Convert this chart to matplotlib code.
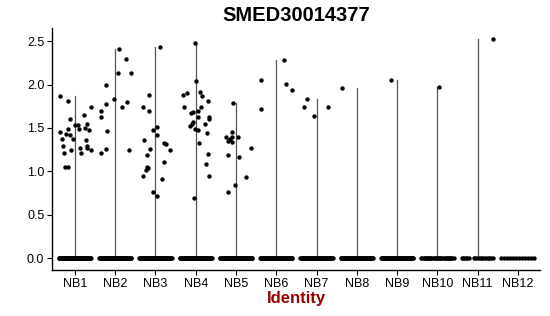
import numpy as np
import matplotlib
matplotlib.use("Agg")
import matplotlib.pyplot as plt

plt.rcParams["font.family"] = ["Liberation Sans", "DejaVu Sans"]

# cluster labels and the expression values (non-zero cells),
# with the horizontal jitter offset each point shows
groups = ["NB1", "NB2", "NB3", "NB4", "NB5", "NB6",
          "NB7", "NB8", "NB9", "NB10", "NB11", "NB12"]

nz_values = [
    [1.87, 1.81, 1.60, 1.45, 1.37, 1.49, 1.43, 1.42, 1.37, 1.29, 1.25, 1.21, 1.53,
     1.53, 1.49, 1.65, 1.55, 1.50, 1.48, 1.74, 1.36, 1.29, 1.27, 1.27, 1.21, 1.24,
     1.05, 1.05],
    [1.62, 1.70, 2.00, 1.77, 1.46, 1.21, 1.26, 1.83, 2.41, 2.13, 2.29, 2.13, 1.74,
     1.80, 1.25],
    [2.43, 1.88, 1.74, 1.69, 1.48, 1.51, 1.42, 1.36, 1.26, 1.19, 1.33, 1.31, 1.24,
     1.11, 1.05, 1.04, 1.02, 0.95, 0.91, 0.76, 0.71],
    [2.48, 2.04, 1.88, 1.90, 1.91, 1.87, 1.81, 1.74, 1.67, 1.68, 1.70, 1.74, 1.63,
     1.62, 1.60, 1.55, 1.57, 1.54, 1.52, 1.49, 1.47, 1.44, 1.33, 1.20, 1.08, 0.94,
     0.69],
    [1.79, 1.45, 1.39, 1.35, 1.37, 1.34, 1.39, 1.39, 1.19, 1.16, 1.27, 0.93, 0.76,
     0.84],
    [2.05, 1.72, 2.28, 2.01, 1.94],
    [1.83, 1.74, 1.64, 1.74],
    [1.96],
    [2.05],
    [1.97],
    [2.52],
    [],
]

nz_offsets = [
    [-0.37, -0.18, -0.12, -0.37, -0.32, -0.18, -0.23, -0.12, -0.04, -0.29, -0.10,
     -0.27, 0.00, 0.07, 0.11, 0.22, 0.29, 0.25, 0.36, 0.39, 0.27, 0.31, 0.31, 0.12,
     0.15, 0.40, -0.25, -0.18],
    [-0.36, -0.36, -0.23, -0.23, -0.20, -0.36, -0.23, -0.02, 0.09, 0.06, 0.28, 0.38,
     0.16, 0.29, 0.35],
    [0.11, -0.15, -0.30, -0.17, -0.05, 0.04, 0.05, -0.29, -0.14, -0.21, 0.22, 0.25,
     0.35, 0.21, -0.22, -0.18, -0.24, -0.30, 0.17, -0.07, 0.03],
    [-0.03, 0.01, -0.31, -0.22, 0.10, 0.16, 0.30, -0.28, -0.12, -0.07, 0.06, 0.13,
     0.05, 0.33, 0.33, 0.24, -0.06, -0.10, -0.14, -0.01, 0.05, 0.28, 0.07, 0.30,
     0.25, 0.32, -0.04],
    [-0.07, -0.10, -0.24, -0.20, -0.16, -0.11, -0.09, 0.06, -0.19, 0.07, 0.37, 0.25,
     -0.21, -0.02],
    [-0.38, -0.38, 0.19, 0.25, 0.38],
    [-0.23, -0.30, -0.07, 0.28],
    [-0.36],
    [-0.14],
    [0.04],
    [0.39],
    [],
]

# number of zero-expression cells drawn per cluster (dense bands, thinning out)
zero_counts = [60, 60, 60, 60, 60, 55, 55, 55, 50, 30, 18, 12]

fig, ax = plt.subplots(figsize=(5.5, 3.16), dpi=100)
fig.subplots_adjust(left=0.0945, right=0.982, bottom=0.1456, top=0.911)

for i, g in enumerate(groups):
    pos = i + 1
    vals = nz_values[i]
    top = max(vals) if vals else 0.0
    # thin violin: collapses to a vertical line for these zero-inflated clusters
    ax.plot([pos, pos], [0, top], color="#555555", lw=0.9, zorder=1)
    n0 = zero_counts[i]
    if i == 10:
        zx = np.concatenate([np.linspace(-0.40, -0.22, 6), np.linspace(-0.10, 0.38, 12)])
    elif i == 11:
        zx = np.linspace(-0.42, 0.40, n0)
    else:
        zx = np.linspace(-0.40, 0.40, n0)
    ax.scatter(pos + zx, np.zeros(len(zx)), s=10, color="black",
               linewidths=0, zorder=2)
    if vals:
        ax.scatter(pos + np.array(nz_offsets[i]), vals, s=10, color="black",
                   linewidths=0, zorder=2)

ax.set_xlim(0.43, 12.55)
ax.set_ylim(-0.138, 2.65)
ax.set_xticks(range(1, len(groups) + 1))
ax.set_xticklabels(groups)
ax.set_yticks([0.0, 0.5, 1.0, 1.5, 2.0, 2.5])
ax.set_yticklabels(["0.0", "0.5", "1.0", "1.5", "2.0", "2.5"])
ax.tick_params(axis="both", labelsize=9, length=3.5, width=0.8, colors="black",
               pad=2)
for side in ["top", "right"]:
    ax.spines[side].set_visible(False)
for side in ["left", "bottom"]:
    ax.spines[side].set_linewidth(1.0)

ax.set_xlabel("Identity", fontsize=12, fontweight="bold", color="#990000",
              labelpad=1)
ax.set_title("SMED30014377", fontsize=14.5, fontweight="bold", pad=5)

fig.savefig("out.png", dpi=100)
